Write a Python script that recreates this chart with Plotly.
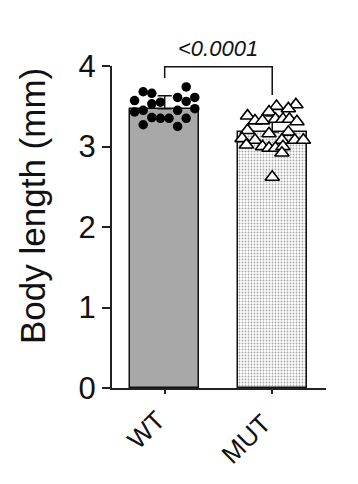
import plotly.graph_objects as go

categories = ["WT", "MUT"]
means = [3.47, 3.18]
sds = [0.16, 0.20]

wt_offsets = [-0.20, -0.12, 0.20, -0.28, 0.12, 0.28, 0.20, -0.04, -0.12, -0.28,
              -0.20, 0.12, 0.28, -0.12, -0.04, 0.04, 0.20, -0.20, 0.12]
wt_values = [3.68, 3.66, 3.74, 3.57, 3.61, 3.61, 3.56, 3.55, 3.53, 3.43,
             3.45, 3.45, 3.47, 3.36, 3.35, 3.35, 3.35, 3.27, 3.25]

mut_offsets = [0.04, 0.22, 0.15, -0.03, -0.23, -0.16, -0.09, 0.03, 0.10, 0.16,
               0.23, -0.23, -0.03, 0.15, -0.28, -0.16, 0.09, 0.21, 0.29, -0.24,
               -0.09, -0.03, 0.03, 0.10, 0.09, 0.00]
mut_values = [3.50, 3.52, 3.47, 3.43, 3.38, 3.32, 3.32, 3.34, 3.34, 3.34,
              3.31, 3.20, 3.16, 3.18, 3.10, 3.08, 3.08, 3.08, 3.08, 3.02,
              3.00, 2.98, 2.98, 3.00, 2.92, 2.62]

p_text = "<0.0001"
bracket_y = [3.85, 3.99, 3.64]  # left leg bottom, top, right leg bottom
y_ticks = [0, 1, 2, 3, 4]
y_title = "Body length (mm)"

FONT = "Liberation Sans, Arial, Helvetica, sans-serif"
AX = "#222222"

# page body has an 8px default margin; work in figure pixels
OFF = 8
W, H = 358 - OFF, 484 - OFF
plot_l, plot_r, plot_t, plot_b = 112 - OFF, 326 - OFF, 66 - OFF, 388 - OFF


def px_to_paper(px, py):
    return (px - plot_l) / (plot_r - plot_l), (plot_b - py) / (plot_b - plot_t)


fig = go.Figure()

fig.add_trace(go.Bar(
    x=[0], y=[means[0]], width=0.64,
    marker=dict(color="#a8a8a8", line=dict(color="#111111", width=1.5)),
    error_y=dict(type="data", symmetric=False, array=[sds[0]], arrayminus=[0],
                 color="#111111", thickness=1.5, width=7),
    showlegend=False,
))
fig.add_trace(go.Bar(
    x=[1], y=[means[1]], width=0.64,
    marker=dict(color="#ffffff", line=dict(color="#111111", width=1.5),
                pattern=dict(shape=".", fgcolor="#a8a8a8", bgcolor="#ffffff",
                             size=3, solidity=0.3, fillmode="replace")),
    error_y=dict(type="data", symmetric=False, array=[sds[1]], arrayminus=[0],
                 color="#111111", thickness=1.5, width=7),
    showlegend=False,
))

fig.add_trace(go.Scatter(
    x=[0 + o for o in wt_offsets], y=wt_values, mode="markers",
    marker=dict(symbol="circle", size=9.5, color="#000000",
                line=dict(color="#000000", width=0)),
    showlegend=False, cliponaxis=False,
))
fig.add_trace(go.Scatter(
    x=[1 + o for o in mut_offsets], y=mut_values, mode="markers",
    marker=dict(symbol="triangle-up", size=12.5, color="#ffffff",
                line=dict(color="#000000", width=1.6)),
    showlegend=False, cliponaxis=False,
))

fig.add_shape(type="path",
              path=f"M 0 {bracket_y[0]} L 0 {bracket_y[1]} L 1 {bracket_y[1]} L 1 {bracket_y[2]}",
              xref="x", yref="y", line=dict(color="#111111", width=1.5))
fig.add_annotation(x=0.5, y=bracket_y[1], xref="x", yref="y", text=f"<i>{p_text}</i>",
                   showarrow=False, yanchor="middle", yshift=18,
                   font=dict(family=FONT, size=22, color="#111111"))

# y-axis title
tx, ty = px_to_paper(32 - OFF, 206 - OFF)
fig.add_annotation(x=tx, y=ty, xref="paper", yref="paper", text=y_title,
                   showarrow=False, textangle=-90, xanchor="center", yanchor="middle",
                   font=dict(family=FONT, size=35, color="#111111"))

# rotated category labels
label_centers = [(146, 430), (246, 439)]
for cat, (cx, cy) in zip(categories, label_centers):
    ax_, ay_ = px_to_paper(cx - OFF, cy - OFF)
    fig.add_annotation(x=ax_, y=ay_, xref="paper", yref="paper", text=cat,
                       showarrow=False, textangle=-45, xanchor="center", yanchor="middle",
                       font=dict(family=FONT, size=26, color="#111111"))

fig.update_layout(
    width=W, height=H,
    margin=dict(l=plot_l, r=W - plot_r, t=plot_t, b=H - plot_b, autoexpand=False),
    plot_bgcolor="white", paper_bgcolor="white",
    font=dict(family=FONT, color="#111111"),
    bargap=0,
)
fig.update_xaxes(
    range=[-0.49, 1.50], tickvals=[0, 1], ticktext=categories, showticklabels=False,
    showline=True, linecolor=AX, linewidth=2,
    ticks="outside", ticklen=4, tickwidth=1.5, tickcolor=AX,
    showgrid=False, zeroline=False, automargin=False,
)
fig.update_yaxes(
    range=[0, 4], tickvals=y_ticks,
    tickfont=dict(size=31, family=FONT, color="#111111"),
    showline=True, linecolor=AX, linewidth=2,
    ticks="outside", ticklen=8, tickwidth=2, tickcolor=AX,
    showgrid=False, zeroline=False, automargin=False,
)

fig.write_html("out.html")
